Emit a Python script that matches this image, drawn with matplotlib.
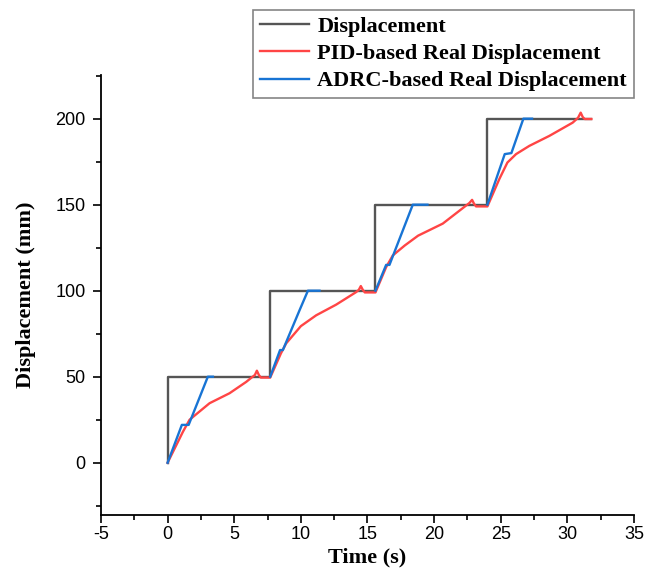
import numpy as np
import matplotlib.pyplot as plt
from matplotlib.ticker import MultipleLocator

plt.rcParams['axes.unicode_minus'] = False

nan = np.nan

# reference step displacement
ref_t = [0, 0, 7.7, 7.7, 15.6, 15.6, 24.0, 24.0, 31.8]
ref_y = [0, 50, 50, 100, 100, 150, 150, 200, 200]

# PID response
pid_t = [0, 1.15, 1.65, 3.15, 4.65, 5.9, 6.3, 6.55, 6.7, 6.85, 7.0, 7.7,
         8.5, 8.9, 10.0, 11.15, 12.65, 14.15, 14.35, 14.5, 14.65, 14.8, 15.6,
         16.4, 16.9, 17.8, 18.8, 20.65, 22.4, 22.65, 22.85, 23.0, 23.15, 24.0,
         24.9, 25.5, 26.15, 27.15, 28.65, 30.4, 30.8, 31.0, 31.15, 31.3, 31.8]
pid_y = [0, 18, 25, 34.6, 40.4, 47, 49.5, 51, 53.5, 51, 49.5, 49.5,
         63.5, 69.4, 79.4, 85.7, 91.9, 99.2, 100.5, 102.7, 100.5, 99, 99,
         113.7, 120.5, 126.3, 132, 139, 149.5, 151, 152.8, 150.5, 149, 149,
         165, 174.5, 179.4, 184.2, 190, 197.7, 200.5, 203.5, 201, 199.8, 199.8]

# ADRC response
adrc_t = [0, 1.07, 1.58, 3.02, 3.4, nan,
          7.7, 8.44, 8.65, 9.9, 10.53, 11.4, nan,
          15.6, 16.4, 16.65, 18.4, 19.5, nan,
          24.0, 25.3, 25.8, 26.7, 27.35]
adrc_y = [0, 22, 22, 50, 50, nan,
          50, 65.5, 65.5, 88.6, 100, 100, nan,
          100, 115, 115, 150, 150, nan,
          150, 179.4, 180, 200, 200]

serif = 'Liberation Serif'
sans = 'Liberation Sans'

fig = plt.figure(figsize=(6.46, 5.75), dpi=100)
ax = fig.add_axes([0.1563, 0.1043, 0.8251, 0.7653])

l1, = ax.plot(ref_t, ref_y, color='#555555', lw=1.7, label='Displacement')
l2, = ax.plot(pid_t, pid_y, color='#ff4545', lw=1.7, label='PID-based Real Displacement')
l3, = ax.plot(adrc_t, adrc_y, color='#1874d4', lw=1.7, label='ADRC-based Real Displacement')

ax.set_xlim(-5, 35)
ax.set_ylim(-30.4, 225.4)
ax.xaxis.set_major_locator(MultipleLocator(5))
ax.xaxis.set_minor_locator(MultipleLocator(2.5))
ax.yaxis.set_major_locator(MultipleLocator(50))
ax.yaxis.set_minor_locator(MultipleLocator(25))

for s in ['top', 'right']:
    ax.spines[s].set_visible(False)
for s in ['left', 'bottom']:
    ax.spines[s].set_linewidth(1.3)

ax.tick_params(which='major', direction='out', length=6, width=1.2, labelsize=13)
ax.tick_params(which='minor', direction='out', length=3.5, width=1.2)
ax.tick_params(axis='x', which='major', pad=2)
ax.tick_params(axis='y', which='major', pad=5)
for lab in ax.get_xticklabels() + ax.get_yticklabels():
    lab.set_fontfamily(sans)

ax.set_xlabel('Time (s)', fontsize=16, fontweight='bold', fontfamily=serif, labelpad=3)
ax.set_ylabel('Displacement (mm)', fontsize=16, fontweight='bold', fontfamily=serif, labelpad=14)

leg = fig.legend(handles=[l1, l2, l3], loc='upper right',
                 bbox_to_anchor=(0.981, 0.983), frameon=True, fancybox=False,
                 prop={'family': serif, 'weight': 'bold', 'size': 16},
                 handlelength=2.2, handletextpad=0.4, borderpad=0.3,
                 labelspacing=0.3, borderaxespad=0)
leg.get_frame().set_edgecolor('#666666')
leg.get_frame().set_linewidth(1.2)

fig.savefig('out.png', dpi=100)
